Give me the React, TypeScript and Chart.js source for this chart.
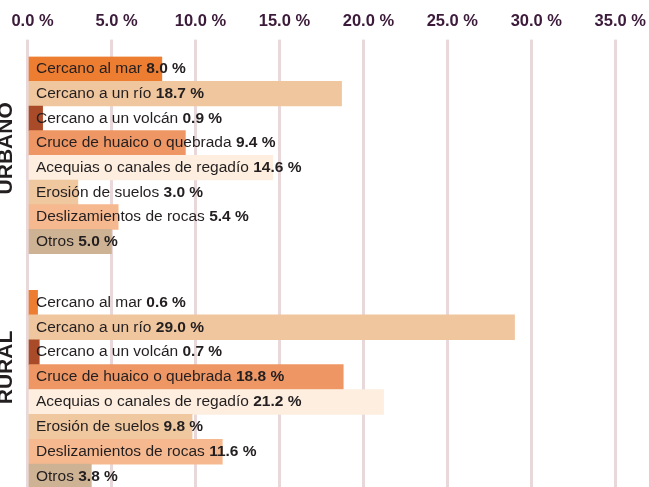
import React, { useEffect, useRef } from "react";
import { Chart, registerables } from "chart.js";

Chart.register(...registerables);

const categories = [
  "Cercano al mar",
  "Cercano a un río",
  "Cercano a un volcán",
  "Cruce de huaico o quebrada",
  "Acequias o canales de regadío",
  "Erosión de suelos",
  "Deslizamientos de rocas",
  "Otros",
];
const urbanValues = [8.0, 18.7, 0.9, 9.4, 14.6, 3.0, 5.4, 5.0];
const ruralValues = [0.6, 29.0, 0.7, 18.8, 21.2, 9.8, 11.6, 3.8];
const barColors = [
  "#ed7d31",
  "#efc69e",
  "#a94b28",
  "#ee9765",
  "#fdeedf",
  "#efc8a0",
  "#f6b98f",
  "#ceb294",
];
const tickValues = [0, 5, 10, 15, 20, 25, 30, 35];
const groupTitles = ["URBANO", "RURAL"];

const FONT = "'Liberation Sans', Arial, sans-serif";
const GRID = "#e8d8da";

const labelPlugin = {
  id: "barLabels",
  afterDatasetsDraw(chart: any) {
    const ctx = chart.ctx;
    const meta = chart.getDatasetMeta(0);
    const xScale = chart.scales.x;
    const x0 = xScale.getPixelForValue(0) + 8.5;
    const values = chart.data.datasets[0].data;
    ctx.save();
    ctx.textBaseline = "middle";
    ctx.textAlign = "left";
    ctx.fillStyle = "#231f20";
    meta.data.forEach((bar: any, i: number) => {
      const name = chart.data.labels[i] + " ";
      ctx.font = `15.5px ${FONT}`;
      ctx.fillText(name, x0, bar.y);
      const w = ctx.measureText(name).width;
      ctx.font = `bold 15.5px ${FONT}`;
      ctx.fillText(values[i].toFixed(1) + " %", x0 + w, bar.y);
    });
    const opts = chart.options.plugins.groupTitle;
    const area = chart.chartArea;
    ctx.translate(area.left - 15.5, (area.top + area.bottom) / 2 + opts.shift);
    ctx.rotate(-Math.PI / 2);
    ctx.textAlign = "center";
    ctx.textBaseline = "alphabetic";
    ctx.font = `bold 21px ${FONT}`;
    ctx.fillStyle = "#231f20";
    ctx.fillText(opts.text, 0, 0);
    ctx.restore();
  },
};

function makeConfig(values: number[], title: string, shift: number, showTicks: boolean) {
  return {
    type: "bar" as const,
    data: {
      labels: categories,
      datasets: [
        {
          data: values,
          backgroundColor: barColors,
          barPercentage: 1,
          categoryPercentage: 1,
          borderWidth: 0,
        },
      ],
    },
    plugins: [labelPlugin],
    options: {
      indexAxis: "y" as const,
      animation: false as const,
      responsive: false,
      maintainAspectRatio: false,
      layout: {
        padding: { left: 27.5, right: 33.7, top: showTicks ? 4 : 0, bottom: 0 },
      },
      plugins: {
        legend: { display: false },
        tooltip: { enabled: false },
        groupTitle: { text: title, shift },
      },
      scales: {
        x: {
          type: "linear" as const,
          position: "top" as const,
          min: 0,
          max: 35,
          afterBuildTicks: (scale: any) => {
            scale.ticks = tickValues.map((v) => ({ value: v }));
          },
          grid: {
            color: GRID,
            lineWidth: 3,
            drawTicks: true,
            tickLength: showTicks ? 17 : 36,
          },
          border: { display: false },
          ticks: {
            display: showTicks,
            padding: 0,
            labelOffset: 5,
            maxRotation: 0,
            autoSkip: false,
            color: "#3b1a3a",
            font: { family: FONT, size: 16.5, weight: "bold" as const, lineHeight: 2.158 },
            callback: (v: any) => Number(v).toFixed(1) + " %",
          },
        },
        y: {
          display: false,
        },
      },
    },
  };
}

export default function App() {
  const refA = useRef<HTMLCanvasElement>(null);
  const refB = useRef<HTMLCanvasElement>(null);
  useEffect(() => {
    const a = new Chart(refA.current!, makeConfig(urbanValues, groupTitles[0], -7, true) as any);
    const b = new Chart(refB.current!, makeConfig(ruralValues, groupTitles[1], -22, false) as any);
    return () => {
      a.destroy();
      b.destroy();
    };
  }, []);
  return (
    <div style={{ position: "fixed", left: 0, top: 0, width: 649, height: 487, overflow: "hidden", background: "#fff" }}>
      <canvas ref={refA} width={649} height={254} style={{ position: "absolute", left: 0, top: 0, width: 649, height: 254 }} />
      <canvas ref={refB} width={649} height={235} style={{ position: "absolute", left: 0, top: 254, width: 649, height: 235 }} />
    </div>
  );
}
